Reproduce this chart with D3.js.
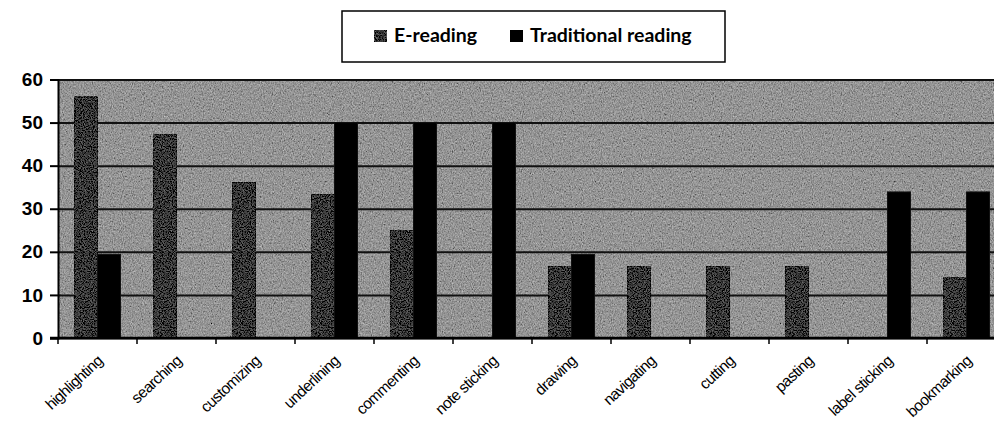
<!DOCTYPE html>
<html>
<head>
<meta charset="utf-8">
<script src="https://cdn.jsdelivr.net/npm/d3@7"></script>
<style>
  body { margin: 0; background: #fff; }
  svg { display: block; }
</style>
</head>
<body>
<div id="chart"></div>
<script>
const categories = ["highlighting", "searching", "customizing", "underlining", "commenting",
  "note sticking", "drawing", "navigating", "cutting", "pasting", "label sticking", "bookmarking"];
const seriesNames = ["E-reading", "Traditional reading"];
const eReading = [56, 47.2, 36.1, 33.3, 25, 0, 16.7, 16.7, 16.7, 16.7, 0, 14];
const traditional = [19.4, 0, 0, 50, 50, 50, 19.4, 0, 0, 0, 33.9, 33.9];
const yTicks = [0, 10, 20, 30, 40, 50, 60];

const W = 994, H = 421;
const margin = { top: 79.5, left: 58, right: -12, bottom: 83 };
const width = W - margin.left - margin.right;
const height = H - margin.top - margin.bottom;

const svg = d3.select("#chart").append("svg")
  .attr("width", W).attr("height", H);

// texture filters (grey speckle like the scanned original)
const defs = svg.append("defs");
function grain(id, freq, amp, seed) {
  const f = defs.append("filter").attr("id", id)
    .attr("x", 0).attr("y", 0).attr("width", 1).attr("height", 1);
  f.append("feTurbulence").attr("type", "fractalNoise")
    .attr("baseFrequency", freq).attr("numOctaves", 3).attr("seed", seed).attr("result", "n");
  f.append("feColorMatrix").attr("in", "n").attr("type", "matrix")
    .attr("values", "0.34 0.33 0.33 0 0  0.34 0.33 0.33 0 0  0.34 0.33 0.33 0 0  0 0 0 0 1")
    .attr("result", "g");
  f.append("feComposite").attr("in", "SourceGraphic").attr("in2", "g")
    .attr("operator", "arithmetic").attr("k1", 0).attr("k2", 1).attr("k3", amp).attr("k4", -amp / 2)
    .attr("result", "m");
  f.append("feComposite").attr("in", "m").attr("in2", "SourceAlpha").attr("operator", "in");
}
grain("bgGrain", "0.9 0.6", 0.9, 4);
grain("barGrain", "0.9", 0.6, 9);

const g = svg.append("g").attr("transform", `translate(${margin.left},${margin.top})`);

const x0 = d3.scaleBand().domain(categories).range([0, width]).padding(0);
const x1 = d3.scaleBand().domain(seriesNames).range([0, x0.bandwidth()])
  .paddingInner(0).paddingOuter(0.72);
const y = d3.scaleLinear().domain([0, 60]).range([height, 0]);

// plot background
g.append("rect")
  .attr("width", width).attr("height", height)
  .attr("fill", "#949494")
  .attr("filter", "url(#bgGrain)");

// gridlines
g.append("g")
  .call(d3.axisLeft(y).tickValues(yTicks).tickSize(-width).tickFormat(""))
  .call(a => a.select(".domain").remove())
  .selectAll("line").attr("stroke", "#111").attr("stroke-width", 2);

// bars
const data = categories.map((c, i) => ({ cat: c, vals: [eReading[i], traditional[i]] }));
const grp = g.selectAll("g.cat").data(data).enter().append("g")
  .attr("class", "cat")
  .attr("transform", d => `translate(${x0(d.cat)},0)`);

grp.selectAll("rect")
  .data(d => d.vals.map((v, j) => ({ key: seriesNames[j], value: v })))
  .enter().append("rect")
  .filter(d => d.value > 0)
  .attr("x", d => x1(d.key))
  .attr("y", d => y(d.value))
  .attr("width", x1.bandwidth())
  .attr("height", d => height - y(d.value))
  .attr("fill", d => d.key === "E-reading" ? "#383838" : "#000")
  .attr("stroke", "#111").attr("stroke-width", 1)
  .attr("filter", d => d.key === "E-reading" ? "url(#barGrain)" : null);

// y axis
const gy = g.append("g")
  .call(d3.axisLeft(y).tickValues(yTicks).tickSize(8).tickPadding(7));
gy.select(".domain").attr("stroke", "#000").attr("stroke-width", 2);
gy.selectAll("line").attr("stroke", "#000").attr("stroke-width", 2);
gy.selectAll("text")
  .style("font-family", "'Liberation Sans', Arial, sans-serif")
  .style("font-weight", "bold").style("font-size", "19px").attr("fill", "#000");

// x axis line + boundary ticks
g.append("line")
  .attr("x1", -8).attr("x2", width).attr("y1", height).attr("y2", height)
  .attr("stroke", "#000").attr("stroke-width", 2.5);
g.selectAll("line.xt")
  .data(categories).enter().append("line")
  .attr("class", "xt")
  .attr("x1", d => x0(d)).attr("x2", d => x0(d))
  .attr("y1", height).attr("y2", height + 6)
  .attr("stroke", "#000").attr("stroke-width", 1.5);

// category labels
g.selectAll("text.xl")
  .data(categories).enter().append("text")
  .attr("class", "xl")
  .attr("transform", d => `translate(${x0(d) + x0.bandwidth() / 2 + 6},${height + 24}) rotate(-43)`)
  .attr("text-anchor", "end")
  .style("font-family", "'Liberation Sans', Arial, sans-serif")
  .style("font-size", "15.5px")
  .style("letter-spacing", "-0.6px")
  .attr("fill", "#000")
  .text(d => d);

// legend
const lg = svg.append("g").attr("transform", "translate(342,11)");
lg.append("rect").attr("width", 383).attr("height", 51)
  .attr("fill", "#fff").attr("stroke", "#000").attr("stroke-width", 1.5);
const legendX = [32, 168];
seriesNames.forEach((s, i) => {
  lg.append("rect")
    .attr("x", legendX[i]).attr("y", 19).attr("width", 13).attr("height", 12)
    .attr("fill", i === 0 ? "#383838" : "#000")
    .attr("filter", i === 0 ? "url(#barGrain)" : null);
  lg.append("text")
    .attr("x", legendX[i] + 20).attr("y", 31)
    .style("font-family", "Lato, 'Open Sans', sans-serif")
    .style("font-weight", "bold").style("font-size", "19.5px")
    .attr("fill", "#000")
    .text(s);
});
</script>
</body>
</html>
